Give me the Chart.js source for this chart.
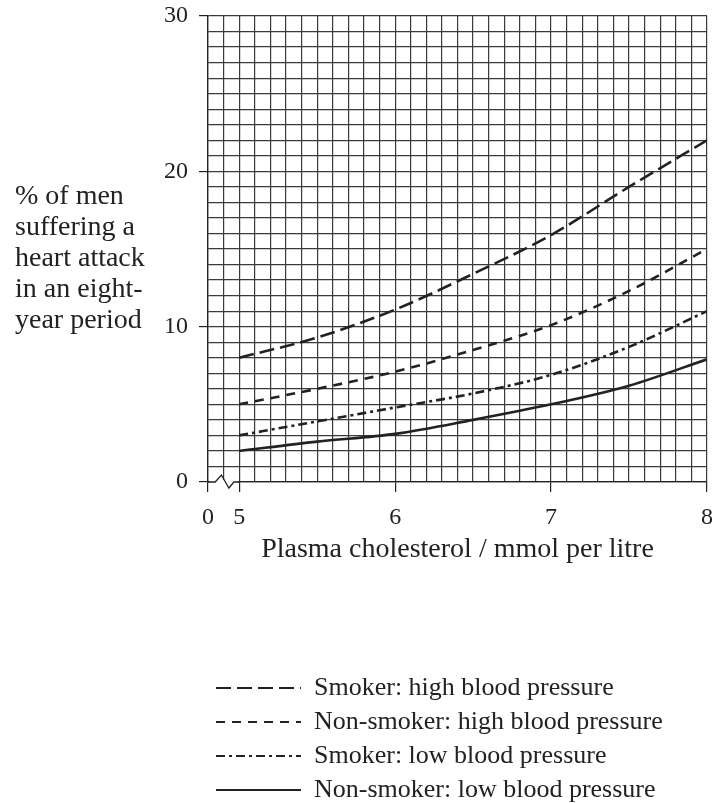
<!DOCTYPE html>
<html>
<head>
<meta charset="utf-8">
<script src="https://cdn.jsdelivr.net/npm/chart.js@4.4.1/dist/chart.umd.min.js"></script>
<style>
  body { margin: 0; background: #fff; }
</style>
</head>
<body>
<canvas id="myChart" width="712" height="803"></canvas>
<script>
// values
const cholesterol = [5, 5.5, 6, 6.5, 7, 7.5, 8];
const smokerHigh = [8, 9.3, 11.1, 13.4, 15.9, 19.0, 22];
const nonSmokerHigh = [5, 6.0, 7.1, 8.5, 10.1, 12.3, 15];
const smokerLow = [3, 3.9, 4.8, 5.7, 6.9, 8.7, 11];
const nonSmokerLow = [2, 2.6, 3.1, 4.0, 5.0, 6.2, 7.9];
const seriesNames = [
    'Smoker: high blood pressure',
    'Non-smoker: high blood pressure',
    'Smoker: low blood pressure',
    'Non-smoker: low blood pressure'
];
const yTitleLines = ['% of men', 'suffering a', 'heart attack', 'in an eight-', 'year period'];
const xTitle = 'Plasma cholesterol / mmol per litre';

// axis starts at 4.8 which is printed as "0" (broken axis)
const X_BREAK = 4.8;

const ink = '#222';
const gridInk = '#3a3a3a';

Chart.defaults.font.family = "'Liberation Serif', 'DejaVu Serif', serif";
Chart.defaults.color = ink;

function toPoints(ys) {
    return ys.map(function(y, i) { return {x: cholesterol[i], y: y}; });
}

function isWhole(v) {
    return Math.abs(v - Math.round(v)) < 1e-6;
}

// y title written horizontally, left of the axis
const yTitlePlugin = {
    id: 'yTitle',
    afterDraw(chart) {
        const ctx = chart.ctx;
        const area = chart.chartArea;
        ctx.save();
        ctx.font = "28px 'Liberation Serif'";
        ctx.fillStyle = ink;
        ctx.textAlign = 'left';
        ctx.textBaseline = 'alphabetic';
        let y = (area.top + area.bottom) / 2 - 45;
        yTitleLines.forEach(function(line) {
            ctx.fillText(line, 15, y);
            y += 31;
        });
        ctx.restore();
    }
};

// zig-zag break on the x axis between 0 and 5
const axisBreakPlugin = {
    id: 'axisBreak',
    afterDraw(chart) {
        const ctx = chart.ctx;
        const xs = chart.scales.x;
        const y0 = chart.scales.y.getPixelForValue(0);
        const a = xs.getPixelForValue(X_BREAK);
        const b = xs.getPixelForValue(5);
        const w = b - a;
        ctx.save();
        ctx.strokeStyle = '#fff';
        ctx.lineWidth = 4;
        ctx.beginPath();
        ctx.moveTo(a + 1.5, y0);
        ctx.lineTo(b - 1.5, y0);
        ctx.stroke();
        ctx.strokeStyle = ink;
        ctx.lineWidth = 1.3;
        ctx.beginPath();
        ctx.moveTo(a, y0);
        ctx.lineTo(a + w * 0.23, y0);
        ctx.lineTo(a + w * 0.43, y0 - 7);
        ctx.lineTo(a + w * 0.67, y0 + 6);
        ctx.lineTo(a + w * 0.83, y0);
        ctx.lineTo(b, y0);
        ctx.stroke();
        ctx.restore();
    }
};

const dashes = [[15, 6], [9, 7], [9, 4, 3, 4], []];
const allSeries = [smokerHigh, nonSmokerHigh, smokerLow, nonSmokerLow];

const ctx = document.getElementById('myChart').getContext('2d');
const myChart = new Chart(ctx, {
    type: 'line',
    data: {
        datasets: allSeries.map(function(s, i) {
            return {
                label: seriesNames[i],
                data: toPoints(s),
                borderColor: ink,
                backgroundColor: ink,
                borderWidth: 2.6,
                borderDash: dashes[i],
                pointRadius: 0,
                cubicInterpolationMode: 'monotone',
                fill: false
            };
        })
    },
    options: {
        responsive: false,
        animation: false,
        layout: {
            padding: {top: 16, right: 5, bottom: 0, left: 0}
        },
        plugins: {
            tooltip: {enabled: false},
            legend: {
                position: 'bottom',
                align: 'start',
                fullSize: false,
                maxHeight: 136,
                labels: {
                    usePointStyle: true,
                    pointStyle: 'line',
                    pointStyleWidth: 85,
                    padding: 8,
                    color: ink,
                    font: {size: 26},
                    generateLabels: function(chart) {
                        const items = Chart.defaults.plugins.legend.labels.generateLabels(chart);
                        items.forEach(function(item) {
                            const ds = chart.data.datasets[item.datasetIndex];
                            item.lineDash = ds.borderDash;
                            item.lineWidth = 2.2;
                            item.strokeStyle = ink;
                        });
                        return items;
                    }
                }
            }
        },
        scales: {
            x: {
                type: 'linear',
                min: X_BREAK,
                max: 8,
                afterFit: function(scale) {
                    scale.height = 185;
                    scale.paddingLeft = 0;
                    scale.paddingRight = 0;
                },
                ticks: {
                    stepSize: 0.1,
                    autoSkip: false,
                    maxRotation: 0,
                    padding: 11,
                    color: ink,
                    font: {size: 24},
                    callback: function(v) {
                        if (Math.abs(v - X_BREAK) < 1e-6) return '0';
                        if (isWhole(v)) return String(Math.round(v));
                        return '';
                    }
                },
                grid: {
                    color: gridInk,
                    lineWidth: 1.2,
                    tickLength: 10,
                    tickColor: function(c) {
                        const v = c.tick ? c.tick.value : 0;
                        return (isWhole(v) || Math.abs(v - X_BREAK) < 1e-6) ? ink : 'rgba(0,0,0,0)';
                    }
                },
                border: {color: ink, width: 1.3},
                title: {
                    display: true,
                    text: xTitle,
                    color: ink,
                    font: {size: 28},
                    padding: {top: 0, bottom: 101}
                }
            },
            y: {
                min: 0,
                max: 30,
                afterFit: function(scale) {
                    scale.width = 208;
                    scale.paddingTop = 0;
                    scale.paddingBottom = 0;
                },
                ticks: {
                    stepSize: 1,
                    autoSkip: false,
                    padding: 11,
                    color: ink,
                    font: {size: 24},
                    callback: function(v) {
                        return v % 10 === 0 ? String(v) : '';
                    }
                },
                grid: {
                    color: gridInk,
                    lineWidth: 1.2,
                    tickLength: 9,
                    tickColor: function(c) {
                        const v = c.tick ? c.tick.value : 1;
                        return v % 10 === 0 ? ink : 'rgba(0,0,0,0)';
                    }
                },
                border: {color: ink, width: 1.3}
            }
        }
    },
    plugins: [yTitlePlugin, axisBreakPlugin]
});
</script>
</body>
</html>
